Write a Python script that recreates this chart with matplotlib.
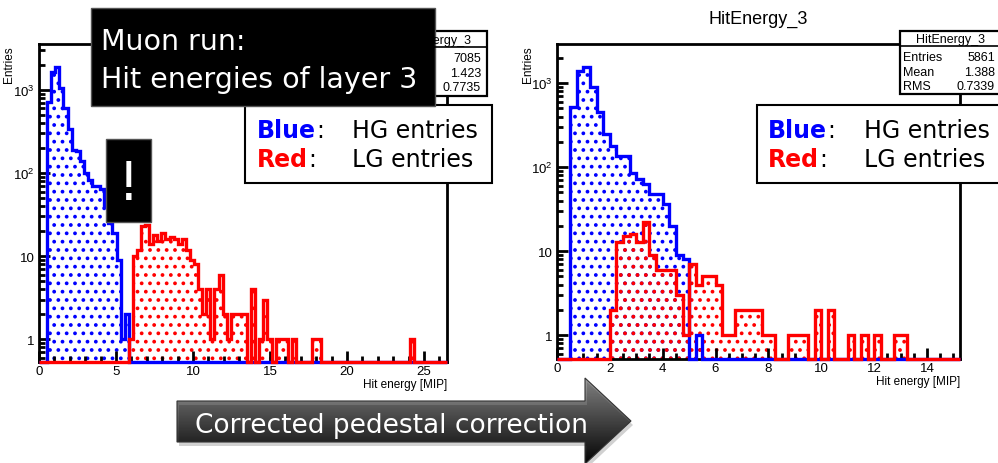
import numpy as np
import matplotlib
matplotlib.use("Agg")
import matplotlib.pyplot as plt
from matplotlib.patches import Rectangle, Polygon
from matplotlib.ticker import (FixedLocator, FixedFormatter, MultipleLocator,
                               LogLocator, NullFormatter)

plt.rcParams['font.family'] = ['Liberation Sans', 'DejaVu Sans']
plt.rcParams['mathtext.fontset'] = 'custom'
plt.rcParams['mathtext.rm'] = 'Liberation Sans'
plt.rcParams['hatch.linewidth'] = 1.5

# ---------------------------------------------------------------
# Hit energy histograms of layer 3 (counts per bin)
# ---------------------------------------------------------------
# before the fix: 100 bins on [0, 26.5] MIP
old_edges = np.linspace(0, 26.5, 101)
old_hg = [0, 0, 720, 1650, 1900, 1050, 600, 340, 190, 185,
          140, 100, 82, 70, 70, 64, 40, 25, 19, 9,
          1, 2] + [0] * 78
old_lg = ([0] * 22
          + [1, 10, 12, 23, 24, 14, 18, 15, 19, 16, 17, 16, 14, 16, 12,
             9, 8, 4, 2, 4, 1, 4, 6, 2, 1, 2, 2, 2, 2, 0, 4, 0, 1, 3, 1,
             0, 1, 1, 1, 0, 1, 0, 0, 0, 0, 1, 1]
          + [0] * 22 + [1] + [0] * 8)
old_stats = {"name": "HitEnergy_3", "Entries": "7085", "Mean": "1.423", "RMS": "0.7735"}

# after the corrected pedestal subtraction: 61 bins on [0, 15.25] MIP
new_edges = np.linspace(0, 15.25, 62)
new_hg = [0, 0, 515, 1400, 1540, 890, 450, 246, 180, 136, 136, 86, 72, 63,
          48, 48, 36, 20, 9, 8, 0, 1] + [0] * 39
new_lg = ([0] * 8
          + [2, 13, 15, 16, 13, 22, 9, 6, 6, 6, 3, 1, 7, 4, 5, 5, 4, 1, 1,
             2, 2, 2, 2, 1, 1, 0, 0, 1, 1, 1, 0, 2, 0, 2, 0, 0, 1, 0, 1, 0,
             1, 0, 0, 1, 1]
          + [0] * 8)
new_stats = {"name": "HitEnergy_3", "Entries": "5861", "Mean": "1.388", "RMS": "0.7339"}

W, H = 998, 464
fig = plt.figure(figsize=(W / 100, H / 100), dpi=100)


def px_axes(x0, x1, ytop, ybot):
    return fig.add_axes([x0 / W, 1 - ybot / H, (x1 - x0) / W, (ybot - ytop) / H])


def draw_hist(ax, edges, counts, color, ymin):
    counts = np.asarray(counts, dtype=float)
    vals = np.where(counts > 0, counts, ymin)
    ax.stairs(vals, edges, baseline=ymin, fill=True, facecolor='none',
              edgecolor=color, linewidth=0, hatch='..', zorder=1)
    ax.stairs(vals, edges, baseline=ymin, color=color, linewidth=2.4,
              zorder=3, clip_on=False)


def style_axes(ax, xmax, ymin, ymax, xmajor, xminor):
    ax.set_yscale('log')
    ax.set_xlim(0, xmax)
    ax.set_ylim(ymin, ymax)
    ax.xaxis.set_major_locator(MultipleLocator(xmajor))
    ax.xaxis.set_minor_locator(MultipleLocator(xminor))
    ax.yaxis.set_major_locator(FixedLocator([1, 10, 100, 1000]))
    ax.yaxis.set_major_formatter(FixedFormatter(['1', '10', '$10^{2}$', '$10^{3}$']))
    ax.yaxis.set_minor_locator(LogLocator(base=10, subs=np.arange(2, 10)))
    ax.yaxis.set_minor_formatter(NullFormatter())
    ax.tick_params(which='both', direction='in', top=False, right=False,
                   width=2, color='black', labelsize=9.5)
    ax.tick_params(axis='x', which='major', length=8, pad=2)
    ax.tick_params(axis='y', which='major', length=8, pad=3)
    ax.tick_params(which='minor', length=4.5)
    for s in ax.spines.values():
        s.set_linewidth(2)
    ax.set_xlabel('Hit energy [MIP]', fontsize=8.5, loc='right')
    ax.xaxis.set_label_coords(1.0, -0.05)
    ax.text(-0.058, 0.995, 'Entries', rotation=90, ha='right', va='top',
            fontsize=8.5, transform=ax.transAxes)


ax1 = px_axes(39, 447, 45, 363)
draw_hist(ax1, old_edges, old_hg, '#0000ff', 0.53)
draw_hist(ax1, old_edges, old_lg, '#ff0000', 0.53)
style_axes(ax1, 26.5, 0.53, 3590, 5, 1)

ax2 = px_axes(557, 960, 45, 360)
draw_hist(ax2, new_edges, new_hg, '#0000ff', 0.52)
draw_hist(ax2, new_edges, new_lg, '#ff0000', 0.52)
style_axes(ax2, 15.25, 0.52, 2925, 2, 0.5)
ax2.text(0.5, 1.08, new_stats["name"], ha='center', va='center', fontsize=13,
         transform=ax2.transAxes)

# ---------------------------------------------------------------
# Annotation layer in pixel coordinates
# ---------------------------------------------------------------
ov = fig.add_axes([0, 0, 1, 1], zorder=10)
ov.set_xlim(0, W)
ov.set_ylim(H, 0)
ov.axis('off')


def stat_box(x0, x1, y0, y1, ysep, stats, row_y, labels=True):
    ov.add_patch(Rectangle((x0, y0), x1 - x0, y1 - y0, facecolor='white',
                           edgecolor='black', lw=1.6))
    ov.plot([x0, x1], [ysep, ysep], color='black', lw=1.2)
    ov.text((x0 + x1) / 2, (y0 + ysep) / 2 + 1, stats["name"], ha='center',
            va='center', fontsize=9)
    for key, y in zip(["Entries", "Mean", "RMS"], row_y):
        if labels:
            ov.text(x0 + 3, y, key, ha='left', va='center', fontsize=9)
        ov.text(x1 - 6, y, stats[key], ha='right', va='center', fontsize=9)


def legend_box(x0, x1, xlab, xdesc):
    ov.add_patch(Rectangle((x0, 106), x1 - x0, 78, facecolor='white',
                           edgecolor='black', lw=1.5))
    rows = [('Blue', '#0000ff', 'HG entries', 138), ('Red', '#ff0000', 'LG entries', 167)]
    for word, col, desc, yb in rows:
        t = ov.text(xlab, yb, word, color=col, fontweight='bold', fontsize=17,
                    family='DejaVu Sans', ha='left', va='baseline')
        ov.annotate(':', xy=(1, 0), xycoords=t, ha='left', va='bottom',
                    fontsize=17, family='DejaVu Sans')
        ov.text(xdesc, yb, desc, fontsize=17, family='DejaVu Sans',
                ha='left', va='baseline')


# left stat box: its labels sit under the headline box
stat_box(387, 487, 32, 97, 48, old_stats, [59, 74, 88], labels=False)
stat_box(900, 1001, 32, 95, 47, new_stats, [58, 73, 87])
legend_box(245, 492, 257, 352)
legend_box(757, 1004, 768, 864)

# headline box
ov.add_patch(Rectangle((91, 9), 344, 98, facecolor='black', edgecolor='#555555', lw=1))
ov.text(101, 50, 'Muon run:', color='white', fontsize=20.5, family='DejaVu Sans',
        ha='left', va='baseline')
ov.text(101, 88, 'Hit energies of layer 3', color='white', fontsize=20.5,
        family='DejaVu Sans', ha='left', va='baseline')

# warning marker
ov.add_patch(Rectangle((106, 140), 45, 83, facecolor='black', edgecolor='#555555', lw=1))
ov.text(128.5, 200, '!', color='white', fontsize=39, family='DejaVu Sans',
        ha='center', va='baseline')

# block arrow with vertical gradient
arrow_pts = [(177, 402), (585, 402), (585, 379), (631, 422), (585, 465),
             (585, 443), (177, 443)]
shadow = Polygon([(x + 2, y + 4) for x, y in arrow_pts], closed=True,
                 facecolor='#000000', edgecolor='none', alpha=0.18)
ov.add_patch(shadow)
arrow = Polygon(arrow_pts, closed=True, facecolor='none', edgecolor='#333333', lw=0.8)
ov.add_patch(arrow)
grad = np.linspace(0.62, 0.02, 256).reshape(-1, 1)
im = ov.imshow(grad, extent=[177, 631, 465, 379], cmap='gray', vmin=0, vmax=1,
               aspect='auto', zorder=0.5)
im.set_clip_path(arrow)
ov.text(195, 433, 'Corrected pedestal correction', color='white', fontsize=19,
        family='DejaVu Sans', ha='left', va='baseline')
ov.set_xlim(0, W)
ov.set_ylim(H, 0)

fig.savefig('out.png', dpi=100)
